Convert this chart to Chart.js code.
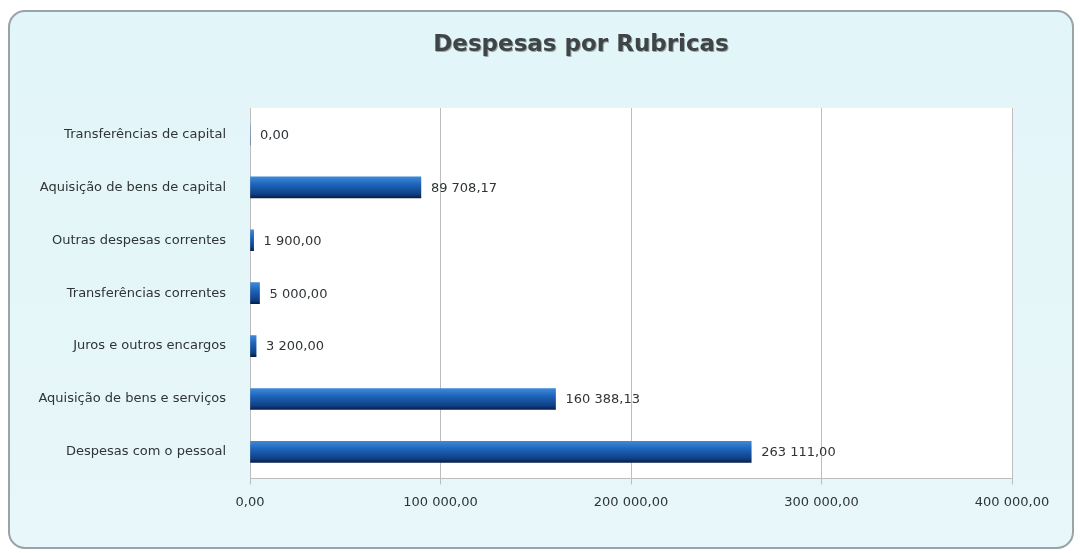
<!DOCTYPE html>
<html>
<head>
<meta charset="utf-8">
<script src="https://cdn.jsdelivr.net/npm/chart.js@4.4.1/dist/chart.umd.min.js"></script>
<style>
  html, body { margin: 0; padding: 0; background: #fff; }
  #wrap { width: 1080px; height: 553px; }
</style>
</head>
<body>
<div id="wrap"><canvas id="myChart" width="1080" height="553"></canvas></div>
<script>
const categories = ['Transferências de capital', 'Aquisição de bens de capital', 'Outras despesas correntes',
  'Transferências correntes', 'Juros e outros encargos', 'Aquisição de bens e serviços', 'Despesas com o pessoal']
const despesas = [0, 89708.17, 1900, 5000, 3200, 160388.13, 263111.00]
const xTicks = [0, 100000, 200000, 300000, 400000]
const titleText = 'Despesas por Rubricas'

function fmt(v) {
  let parts = v.toFixed(2).split('.')
  let int = parts[0].replace(/\B(?=(\d{3})+(?!\d))/g, ' ')
  return int + ',' + parts[1]
}

// background card + white plot area + title + value labels
const backdrop = {
  id: 'backdrop',
  beforeDraw(chart) {
    const c = chart.ctx, a = chart.chartArea
    c.save()
    c.fillStyle = '#ffffff'
    c.fillRect(0, 0, chart.width, chart.height)
    let g = c.createLinearGradient(0, 10, 0, 548)
    g.addColorStop(0, '#e2f5f8')
    g.addColorStop(1, '#e8f7f9')
    c.beginPath()
    c.roundRect(9, 11, 1064, 537, 16)
    c.fillStyle = g
    c.fill()
    c.lineWidth = 2
    c.strokeStyle = '#9aa3a6'
    c.stroke()
    c.fillStyle = '#ffffff'
    c.fillRect(a.left, a.top, a.right - a.left, a.bottom - a.top)
    // title
    c.font = 'bold 23px "DejaVu Sans"'
    c.textAlign = 'center'
    c.textBaseline = 'middle'
    c.fillStyle = '#9aa5a8'
    c.fillText(titleText, 582, 46)
    c.fillStyle = '#3f4547'
    c.fillText(titleText, 581, 45)
    c.restore()
  },
  afterDatasetsDraw(chart) {
    const c = chart.ctx
    const meta = chart.getDatasetMeta(0)
    c.save()
    c.font = '13px "DejaVu Sans"'
    c.fillStyle = '#2f3436'
    c.textBaseline = 'middle'
    meta.data.forEach((bar, i) => {
      c.fillText(fmt(despesas[i]), bar.x + 10, bar.y + 1)
    })
    c.restore()
  }
}

function barFill(context) {
  const chart = context.chart
  const y = chart.scales.y
  if (!chart.chartArea || !y) return '#1a5aa6'
  const cy = y.getPixelForValue(context.dataIndex)
  let g = chart.ctx.createLinearGradient(0, cy - 10, 0, cy + 11)
  g.addColorStop(0, '#3b86d6')
  g.addColorStop(0.35, '#1d63b8')
  g.addColorStop(0.8, '#0f3f86')
  g.addColorStop(1, '#061a3e')
  return g
}

const myChart = new Chart(document.getElementById('myChart'), {
  type: 'bar',
  data: {
    labels: categories,
    datasets: [{
      label: 'Despesas',
      data: despesas,
      backgroundColor: barFill,
      borderWidth: 0,
      barThickness: 21
    }]
  },
  plugins: [backdrop],
  options: {
    indexAxis: 'y',
    responsive: false,
    animation: false,
    layout: { padding: { left: 0, right: 68, top: 108, bottom: 33 } },
    scales: {
      x: {
        min: 0,
        max: 400000,
        afterBuildTicks(scale) { scale.ticks = xTicks.map(v => ({ value: v })) },
        ticks: {
          callback: v => fmt(v),
          color: '#2f3436',
          font: { family: 'DejaVu Sans', size: 13 },
          padding: 10,
          maxRotation: 0
        },
        grid: { color: '#bdbdbd', tickLength: 6 },
        border: { color: '#bdbdbd' }
      },
      y: {
        afterFit(scale) { scale.width = 250 },
        ticks: {
          color: '#2f3436',
          font: { family: 'DejaVu Sans', size: 13 },
          padding: 16
        },
        grid: { display: false },
        border: { color: '#bdbdbd' }
      }
    },
    plugins: {
      legend: { display: false },
      tooltip: { enabled: false },
      title: { display: false }
    }
  }
});
</script>
</body>
</html>
